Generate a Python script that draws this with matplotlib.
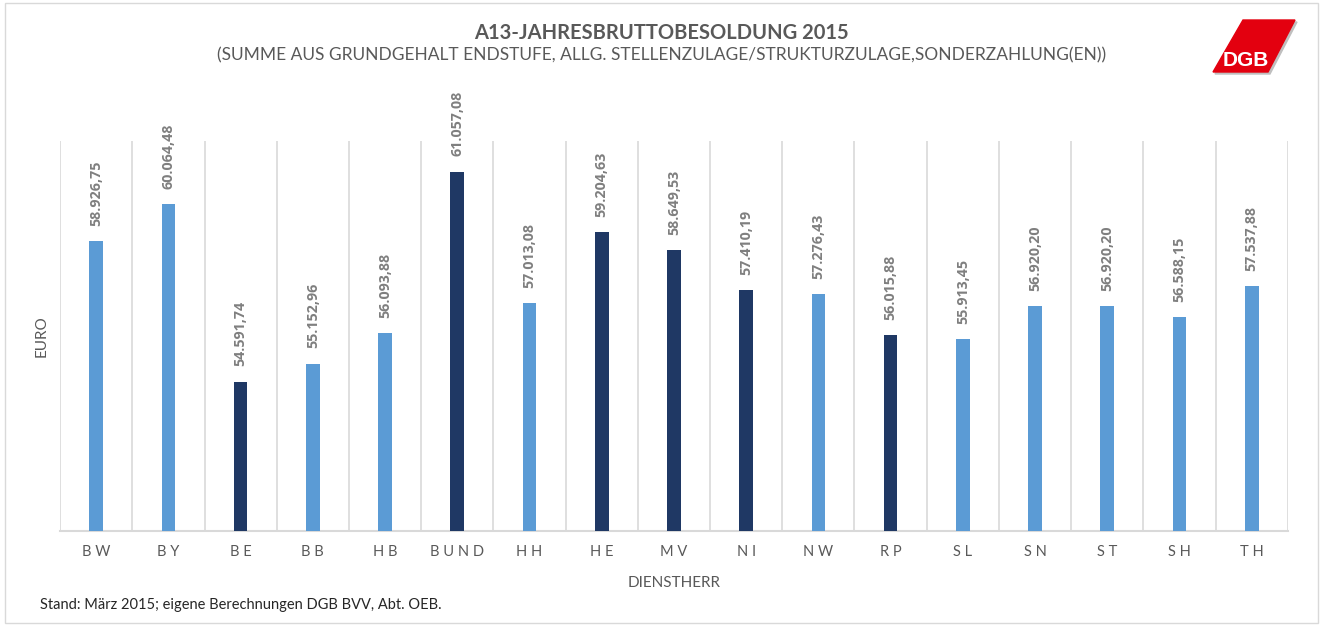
import matplotlib.pyplot as plt
from matplotlib.patches import Polygon, Rectangle

plt.rcParams["font.family"] = ["Lato", "DejaVu Sans"]

states = ["BW", "BY", "BE", "BB", "HB", "BUND", "HH", "HE", "MV",
          "NI", "NW", "RP", "SL", "SN", "ST", "SH", "TH"]
values = [58926.75, 60064.48, 54591.74, 55152.96, 56093.88, 61057.08,
          57013.08, 59204.63, 58649.53, 57410.19, 57276.43, 56015.88,
          55913.45, 56920.20, 56920.20, 56588.15, 57537.88]
dark = ["BE", "BUND", "HE", "MV", "NI", "RP"]

LIGHT = "#5b9bd5"
DARK = "#1f3864"
GRID = "#d9d9d9"
TEXT = "#595959"


def fmt(v):
    s = f"{v:,.2f}"
    return s.replace(",", "X").replace(".", ",").replace("X", ".")


fig = plt.figure(figsize=(13.23, 6.26), dpi=100, facecolor="white")
ax = fig.add_axes([0.0454, 0.1518, 0.928, 0.623])

colors = [DARK if s in dark else LIGHT for s in states]
x = range(len(states))
ax.bar(x, values, width=0.19, color=colors, zorder=3)

for xi, v in zip(x, values):
    ax.annotate(fmt(v), (xi, v), xytext=(0, 11), textcoords="offset points",
                rotation=90, ha="center", va="bottom", fontsize=10.3,
                fontweight="bold", color="#7f7f7f",
                family=["Open Sans", "DejaVu Sans"])

ax.set_xlim(-0.5, len(states) - 0.5)
ax.set_ylim(50000, 62000)
ax.set_yticks([])
ax.set_xticks(list(x))
ax.set_xticklabels([" ".join(s) for s in states], fontsize=10.5, color=TEXT)
ax.set_xticks([i - 0.5 for i in range(len(states) + 1)], minor=True)
ax.tick_params(axis="x", which="both", length=0, pad=10)
ax.grid(axis="x", which="minor", color=GRID, linewidth=1.2, zorder=0)
for side in ["top", "left", "right"]:
    ax.spines[side].set_visible(False)
ax.spines["bottom"].set_color(GRID)
ax.spines["bottom"].set_linewidth(1.5)

ax.set_xlabel("DIENSTHERR", fontsize=11, color=TEXT, labelpad=12)
ax.set_ylabel("EURO", fontsize=11, color=TEXT, labelpad=8)

fig.text(0.5, 0.948, "A13-JAHRESBRUTTOBESOLDUNG 2015", ha="center",
         va="center", fontsize=14.5, fontweight="bold", color=TEXT)
fig.text(0.5, 0.912, "(SUMME AUS GRUNDGEHALT ENDSTUFE, ALLG. STELLENZULAGE/"
         "STRUKTURZULAGE,SONDERZAHLUNG(EN))", ha="center", va="center",
         fontsize=12.5, color=TEXT)
fig.text(0.03, 0.033, "Stand: März 2015; eigene Berechnungen DGB BVV, Abt. OEB.",
         ha="left", va="center", fontsize=10.5, color="#262626")

# DGB logo
W, H = 1323, 626
def px(xp, yp):
    return (xp / W, 1 - yp / H)

shadow = Polygon([px(1245, 22), px(1297, 22), px(1270, 74), px(1215, 74)],
                 closed=True, transform=fig.transFigure, color="#bfbfbf",
                 zorder=1)
logo = Polygon([px(1243, 20), px(1295, 20), px(1268, 72), px(1213, 72)],
               closed=True, transform=fig.transFigure, color="#e3000f",
               zorder=2)
fig.patches.extend([shadow, logo])
fig.text(1246 / W, 1 - 61 / H, "DGB", ha="center", va="center",
         fontsize=15, fontweight="bold", color="white",
         family=["Liberation Sans", "DejaVu Sans"], zorder=3)

fig.patches.append(Rectangle((0.004, 0.004), 0.992, 0.992, fill=False,
                             edgecolor=GRID, linewidth=1,
                             transform=fig.transFigure))

fig.savefig("out.png", dpi=100, facecolor="white")
